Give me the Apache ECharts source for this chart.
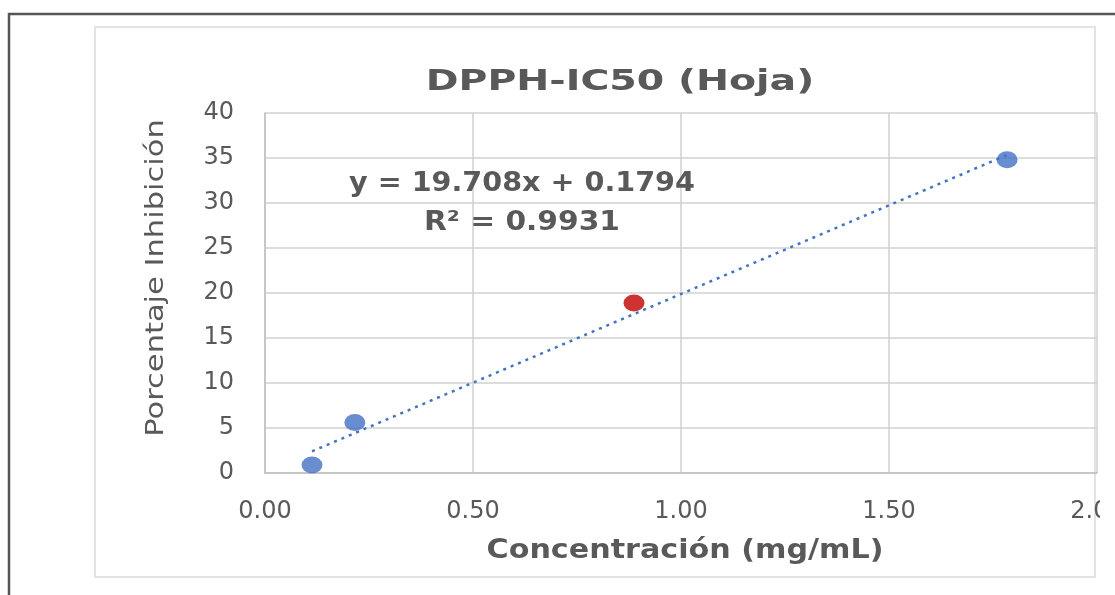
<!DOCTYPE html>
<html><head><meta charset="utf-8">
<script src="https://cdn.jsdelivr.net/npm/echarts@6/dist/echarts.min.js"></script>
<style>html,body{margin:0;padding:0;background:#fff}#c{width:1115px;height:595px}</style>
</head><body><div id="c"></div>
<script>
const concentration = [0.113, 0.216, 0.887, 1.784];
const inhibition = [0.9, 5.6, 18.9, 34.8];
const pointColors = ['#4472C4', '#4472C4', '#C00000', '#4472C4'];
const slope = 19.708, intercept = 0.1794;
const titleText = 'DPPH-IC50 (Hoja)';
const equationText = 'y = 19.708x + 0.1794';
const r2Text = 'R² = 0.9931';
const xName = 'Concentración (mg/mL)';
const yName = 'Porcentaje Inhibición';
const xTicks = ['0.00', '0.50', '1.00', '1.50', '2.00'];

const xMin = Math.min(...concentration), xMax = Math.max(...concentration);
const trend = [[xMin, slope * xMin + intercept], [xMax, slope * xMax + intercept]];
const font = '"DejaVu Sans", "Noto Sans", sans-serif';
const grey = '#595959';
const chart = echarts.init(document.getElementById('c'));
chart.setOption({
  animation: false,
  backgroundColor: '#fff',
  grid: { left: 265, right: 18, top: 113, bottom: 122, outerBoundsMode: 'none', containLabel: false },
  xAxis: { type: 'value', min: 0, max: 2, interval: 0.5,
    axisLine: { show: true, lineStyle: { color: '#bfbfbf', width: 1.5 } }, axisTick: { show: false },
    axisLabel: { fontFamily: font, fontSize: 24, color: grey, margin: 27,
      formatter: v => xTicks[Math.round(v / 0.5)] },
    splitLine: { show: true, lineStyle: { color: '#d0d0d0', width: 1.5 } } },
  yAxis: { type: 'value', min: 0, max: 40, interval: 5,
    axisLine: { show: true, lineStyle: { color: '#bfbfbf', width: 1.5 } }, axisTick: { show: false },
    axisLabel: { fontFamily: font, fontSize: 24, color: grey, margin: 31 },
    splitLine: { show: true, lineStyle: { color: '#d0d0d0', width: 1.5 } } },
  series: [
    { type: 'line', data: trend, symbol: 'none', z: 2,
      lineStyle: { color: '#4472C4', width: 2.5, type: [3, 5] } },
    { type: 'scatter', z: 3, symbol: 'circle', symbolSize: [21, 17],
      data: concentration.map((x, i) => ({ value: [x, inhibition[i]], itemStyle: { color: pointColors[i] } })) }
  ],
  graphic: [
    { type: 'text', x: 620, y: 82, scaleX: 1.36, z: 10,
      style: { text: titleText, font: 'bold 29px ' + font, fill: grey, align: 'center', verticalAlign: 'middle' } },
    { type: 'text', x: 522, y: 184, scaleX: 1.06, z: 10,
      style: { text: equationText, font: 'bold 27px ' + font, fill: grey, align: 'center', verticalAlign: 'middle' } },
    { type: 'text', x: 522, y: 223, scaleX: 1.1, z: 10,
      style: { text: r2Text, font: 'bold 27px ' + font, fill: grey, align: 'center', verticalAlign: 'middle' } },
    { type: 'text', x: 685, y: 551, scaleX: 1.16, z: 10,
      style: { text: xName, font: 'bold 26px ' + font, fill: grey, align: 'center', verticalAlign: 'middle' } },
    { type: 'text', x: 156, y: 278, rotation: Math.PI / 2, scaleX: 1.22, z: 10,
      style: { text: yName, font: '25px ' + font, fill: grey, align: 'center', verticalAlign: 'middle' } },
    { type: 'rect', shape: { x: 95, y: 27, width: 1000, height: 550 }, z: -1,
      style: { fill: 'none', stroke: '#e3e3e3', lineWidth: 2 } },
    { type: 'rect', shape: { x: 1100, y: 480, width: 15, height: 60 }, z: 20, style: { fill: '#fff' } },
    { type: 'polyline', shape: { points: [[9, 595], [9, 14], [1115, 14]] }, z: 20,
      style: { stroke: '#555', lineWidth: 2.5, fill: 'none' } }
  ]
});
</script></body></html>
